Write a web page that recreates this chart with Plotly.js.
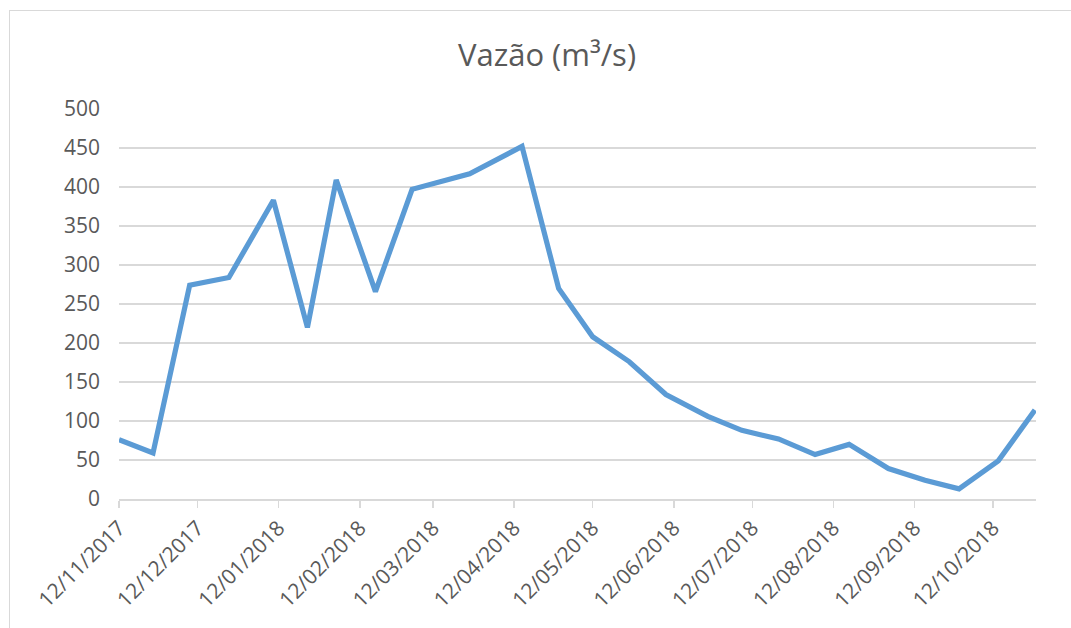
<!DOCTYPE html>
<html>
<head>
<meta charset="utf-8">
<script src="https://cdn.plot.ly/plotly-3.0.1.min.js"></script>
<style>
  html, body { margin: 0; padding: 0; background: #ffffff; }
  #frame { position: absolute; left: 9px; top: 10px; width: 1100px; height: 700px;
           border-left: 1px solid #d9d9d9; border-top: 1px solid #d9d9d9; }
  #chart { position: absolute; left: 0; top: 0; width: 1071px; height: 628px; }
</style>
</head>
<body>
<div id="frame"></div>
<div id="chart"></div>
<script>
const dates = [
  '2017-11-12', '2017-11-25', '2017-12-09', '2017-12-24', '2018-01-10',
  '2018-01-23', '2018-02-03', '2018-02-18', '2018-03-04', '2018-03-26',
  '2018-04-15', '2018-04-29', '2018-05-12', '2018-05-26', '2018-06-09',
  '2018-06-25', '2018-07-08', '2018-07-22', '2018-08-05', '2018-08-18',
  '2018-09-02', '2018-09-16', '2018-09-29', '2018-10-14', '2018-10-28'
];
// Flow values (m³/s)
const vazao = [
  76, 59, 274, 284, 383,
  220, 409, 266, 397, 417,
  452, 270, 208, 176, 134,
  106, 88, 77, 57, 70,
  39, 24, 13, 49, 114
];
// X tick positions and labels
const tickDates = [
  '2017-11-12', '2017-12-12', '2018-01-12', '2018-02-12', '2018-03-12', '2018-04-12',
  '2018-05-12', '2018-06-12', '2018-07-12', '2018-08-12', '2018-09-12', '2018-10-12'
];
const tickLabels = [
  '12/11/2017', '12/12/2017', '12/01/2018', '12/02/2018', '12/03/2018', '12/04/2018',
  '12/05/2018', '12/06/2018', '12/07/2018', '12/08/2018', '12/09/2018', '12/10/2018'
];
const yTicks = [0, 50, 100, 150, 200, 250, 300, 350, 400, 450, 500];
const titleText = 'Vazão (m³/s)';

const trace = {
  x: dates,
  y: vazao,
  type: 'scatter',
  mode: 'lines',
  line: { color: '#5b9bd5', width: 5.2 },
  hoverinfo: 'skip'
};

const layout = {
  width: 1071,
  height: 628,
  paper_bgcolor: 'rgba(0,0,0,0)',
  plot_bgcolor: 'rgba(0,0,0,0)',
  margin: { l: 119, r: 35, t: 109, b: 129 },
  showlegend: false,
  font: { family: '"Open Sans", sans-serif', color: '#595959', size: 21 },
  title: {
    text: titleText,
    font: { family: '"Open Sans", sans-serif', size: 31, color: '#595959' },
    xref: 'container', yref: 'container',
    x: 547 / 1071, xanchor: 'center',
    y: 1 - 55 / 628, yanchor: 'middle'
  },
  xaxis: {
    type: 'date',
    range: ['2017-11-12', '2018-10-28 10:00'],
    tickmode: 'array',
    tickvals: tickDates,
    ticktext: tickLabels,
    tickangle: -45,
    tickfont: { size: 21, color: '#595959' },
    showgrid: false,
    zeroline: false,
    showline: true,
    linecolor: '#d9d9d9',
    linewidth: 1.5,
    ticks: 'outside',
    ticklen: 7,
    tickcolor: '#d9d9d9',
    tickwidth: 1.5
  },
  yaxis: {
    range: [0, 500],
    tickmode: 'array',
    tickvals: yTicks,
    ticktext: yTicks.map(String),
    tickfont: { size: 21, color: '#595959' },
    showgrid: true,
    gridcolor: '#d9d9d9',
    gridwidth: 1.5,
    zeroline: false,
    showline: false,
    ticks: '',
    ticklabelstandoff: 18
  }
};

Plotly.newPlot('chart', [trace], layout, { staticPlot: true, displayModeBar: false });
</script>
</body>
</html>
